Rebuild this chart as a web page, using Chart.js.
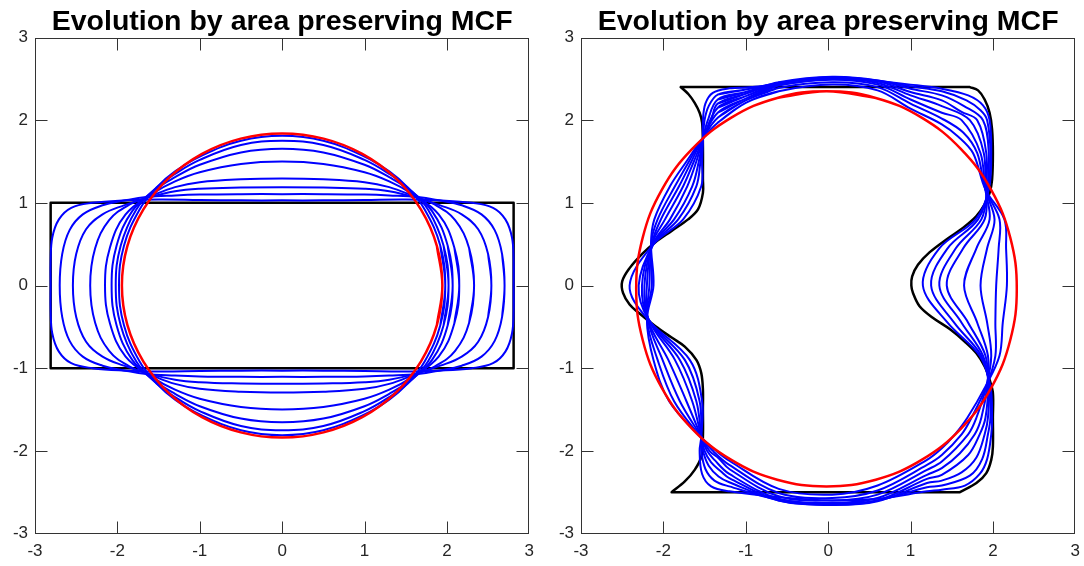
<!DOCTYPE html>
<html>
<head>
<meta charset="utf-8">
<title>Area preserving MCF</title>
<script src="https://cdn.jsdelivr.net/npm/chart.js@4.4.1/dist/chart.umd.min.js"></script>
<style>
  body { margin: 0; background: #fff; width: 1084px; height: 566px; overflow: hidden; position: relative; }
  canvas { position: absolute; top: 0; }
  #leftPanel { left: 0; }
  #rightPanel { left: 546px; }
</style>
</head>
<body>
<canvas id="leftPanel" width="542" height="566"></canvas>
<canvas id="rightPanel" width="542" height="566"></canvas>
<script>
const axisTicks = [-3, -2, -1, 0, 1, 2, 3];
const panelTitle = 'Evolution by area preserving MCF';

// ---- left panel: rectangle flowing to a circle ----
const rectCorners = [[-2.81, 1], [2.81, 1], [2.81, -1], [-2.81, -1]];

// quarter outlines, from the x axis up to the y axis (mirrored into full loops)
const leftCircleQ = [[1.945, 0], [1.879, 0.476], [1.684, 0.92], [1.375, 1.301], [0.973, 1.593], [0.503, 1.777], [0, 1.84]];

const leftFlowQ = [
  [[2.81, 0], [2.81, 0.30], [2.79, 0.58], [2.71, 0.80], [2.56, 0.94], [2.30, 1.00], [1.90, 1.03], [1.50, 1.04], [1.00, 1.035], [0.50, 1.03], [0, 1.03]],
  [[2.70, 0], [2.67, 0.38], [2.58, 0.67], [2.42, 0.86], [2.18, 0.97], [1.90, 1.03], [1.65, 1.07], [1.30, 1.09], [1.00, 1.10], [0.50, 1.105], [0, 1.105]],
  [[2.54, 0], [2.50, 0.38], [2.38, 0.68], [2.18, 0.86], [1.92, 0.97], [1.64, 1.06], [1.30, 1.14], [1.00, 1.17], [0.50, 1.185], [0, 1.19]],
  [[2.33, 0], [2.27, 0.45], [2.10, 0.79], [1.85, 0.98], [1.60, 1.08], [1.30, 1.19], [1.00, 1.25], [0.50, 1.285], [0, 1.295]],
  [[2.15, 0], [2.09, 0.46], [1.90, 0.86], [1.56, 1.12], [1.30, 1.26], [1.00, 1.37], [0.50, 1.47], [0, 1.50]],
  [[2.07, 0], [2.01, 0.48], [1.82, 0.90], [1.54, 1.16], [1.30, 1.31], [1.00, 1.46], [0.50, 1.61], [0, 1.655]],
  [[2.02, 0], [1.96, 0.48], [1.77, 0.92], [1.53, 1.18], [1.30, 1.35], [1.00, 1.52], [0.50, 1.70], [0, 1.75]],
  [[1.98, 0], [1.92, 0.48], [1.73, 0.92], [1.52, 1.19], [1.30, 1.38], [1.00, 1.56], [0.50, 1.75], [0, 1.81]]
];

// ---- right panel: non-convex shape flowing to a circle ----
// start shape, clockwise from the top-left corner (doubled points keep corners sharp)
const rightStart = [[-1.79, 2.40], [-1.79, 2.40], [1.72, 2.40], [1.72, 2.40], [1.82, 2.36], [1.90, 2.25], [1.96, 2.09],
  [1.99, 1.89], [2.00, 1.60], [1.99, 1.28], [1.96, 1.12], [1.90, 0.98], [1.80, 0.84], [1.64, 0.70], [1.44, 0.56],
  [1.23, 0.40], [1.09, 0.25], [1.02, 0.11], [1.01, 0.0], [1.03, -0.09], [1.11, -0.25], [1.27, -0.39], [1.48, -0.53],
  [1.66, -0.68], [1.80, -0.82], [1.90, -0.98], [1.96, -1.14], [2.00, -1.30], [2.00, -1.60], [2.00, -1.95], [1.98, -2.11],
  [1.92, -2.27], [1.80, -2.39], [1.60, -2.50], [1.60, -2.50], [-1.90, -2.50], [-1.90, -2.50], [-1.74, -2.37], [-1.62, -2.23],
  [-1.54, -2.07], [-1.52, -1.83], [-1.52, -1.50], [-1.52, -1.26], [-1.54, -1.06], [-1.60, -0.90], [-1.74, -0.74],
  [-1.90, -0.63], [-2.10, -0.49], [-2.30, -0.33], [-2.41, -0.23], [-2.49, -0.09], [-2.50, 0.05], [-2.41, 0.21],
  [-2.26, 0.38], [-2.10, 0.52], [-1.90, 0.66], [-1.70, 0.80], [-1.58, 0.92], [-1.52, 1.12], [-1.52, 1.29],
  [-1.52, 1.69], [-1.53, 1.97], [-1.56, 2.09], [-1.62, 2.21], [-1.70, 2.32]];

// final circle, clockwise from the top
const rightCircle = [[-0.02, 2.35], [0.578, 2.269], [1.135, 2.03], [1.613, 1.65], [1.981, 1.155], [2.211, 0.579],
  [2.29, -0.04], [2.211, -0.659], [1.981, -1.235], [1.613, -1.73], [1.135, -2.11], [0.578, -2.349], [-0.02, -2.43],
  [-0.618, -2.349], [-1.175, -2.11], [-1.653, -1.73], [-2.021, -1.235], [-2.251, -0.659], [-2.33, -0.04],
  [-2.251, 0.579], [-2.021, 1.155], [-1.653, 1.65], [-1.175, 2.03], [-0.618, 2.269]];

// intermediate outlines, earliest first: each station is [x, y of every curve] or [y, x of every curve]
const rightTop = [
  [-1.0, [2.395, 2.37, 2.34, 2.32, 2.29, 2.26, 2.24, 2.21]],
  [-0.6, [2.43, 2.45, 2.46, 2.45, 2.44, 2.42, 2.39, 2.35]],
  [0.05, [2.50, 2.52, 2.525, 2.52, 2.51, 2.49, 2.46, 2.43]],
  [0.6, [2.47, 2.48, 2.48, 2.47, 2.45, 2.43, 2.40, 2.36]],
  [1.0, [2.43, 2.41, 2.38, 2.34, 2.30, 2.25, 2.20, 2.14]],
  [1.38, [2.38, 2.35, 2.30, 2.24, 2.17, 2.09, 2.02, 1.95]]
];
const rightCornerUR = [
  [[1.70, 2.30], [1.88, 2.18], [1.96, 2.00]],
  [[1.68, 2.24], [1.85, 2.12], [1.93, 2.00]],
  [[1.65, 2.17], [1.88, 2.00]],
  [[1.62, 2.10], [1.81, 2.00]],
  [[1.72, 2.00]],
  [[1.62, 2.00]],
  [[1.64, 1.85]],
  [[1.58, 1.80]]
];
const rightSideR = [
  [1.6, [1.98, 1.97, 1.95, 1.92, 1.89, 1.85, 1.81, 1.76]],
  [1.16, [1.95, 1.94, 1.93, 1.92, 1.91, 1.91, 1.91, 1.91]],
  [0.8, [1.79, 1.82, 1.86, 1.90, 1.96, 2.02, 2.08, 2.14]],
  [0.45, [1.35, 1.45, 1.55, 1.64, 1.80, 1.93, 2.07, 2.16]],
  [0, [1.15, 1.25, 1.35, 1.44, 1.65, 1.85, 2.04, 2.17]],
  [-0.45, [1.45, 1.53, 1.62, 1.70, 1.81, 1.93, 2.03, 2.12]],
  [-0.85, [1.84, 1.86, 1.88, 1.91, 1.94, 1.98, 2.03, 2.08]],
  [-1.22, [1.97, 1.96, 1.95, 1.94, 1.93, 1.92, 1.92, 1.91]],
  [-1.6, [1.99, 1.97, 1.94, 1.91, 1.86, 1.80, 1.74, 1.69]],
  [-1.8, [1.98, 1.94, 1.90, 1.84, 1.78, 1.70, 1.62, 1.54]]
];
const rightCornerLR = [
  [[1.93, -2.10], [1.84, -2.28], [1.66, -2.42]],
  [[1.87, -2.10], [1.72, -2.30]],
  [[1.80, -2.08], [1.62, -2.26]],
  [[1.70, -2.05]],
  [[1.60, -2.03]],
  [], [], []
];
const rightBottom = [
  [1.38, [-2.47, -2.42, -2.36, -2.29, -2.21, -2.13, -2.05, -1.97]],
  [1.2, [-2.49, -2.44, -2.39, -2.34, -2.29, -2.23, -2.17, -2.11]],
  [0.6, [-2.58, -2.60, -2.61, -2.60, -2.57, -2.53, -2.48, -2.42]],
  [0.05, [-2.60, -2.64, -2.655, -2.65, -2.63, -2.60, -2.57, -2.53]],
  [-0.6, [-2.56, -2.59, -2.60, -2.60, -2.58, -2.55, -2.51, -2.46]],
  [-1.2, [-2.49, -2.43, -2.38, -2.33, -2.28, -2.22, -2.17, -2.12]]
];
const rightCornerLL = [
  [[-1.42, -2.43], [-1.53, -2.28]],
  [[-1.38, -2.36], [-1.49, -2.22]],
  [[-1.33, -2.31], [-1.45, -2.18]],
  [[-1.30, -2.25], [-1.42, -2.14]],
  [[-1.38, -2.11]],
  [[-1.33, -2.09]],
  [], []
];
const rightSideL = [
  [-2.0, [-1.56, -1.54, -1.52, -1.50, -1.47, -1.44, -1.40, -1.36]],
  [-1.83, [-1.54, -1.54, -1.54, -1.54, -1.54, -1.54, -1.55, -1.55]],
  [-1.4, [-1.53, -1.56, -1.60, -1.65, -1.72, -1.80, -1.87, -1.93]],
  [-0.9, [-1.68, -1.74, -1.80, -1.86, -1.94, -2.01, -2.07, -2.12]],
  [-0.41, [-2.19, -2.18, -2.18, -2.18, -2.19, -2.19, -2.20, -2.20]],
  [0, [-2.41, -2.30, -2.26, -2.23, -2.20, -2.17, -2.14, -2.12]],
  [0.5, [-2.12, -2.12, -2.13, -2.13, -2.14, -2.14, -2.15, -2.15]],
  [0.8, [-1.76, -1.82, -1.87, -1.92, -1.98, -2.03, -2.07, -2.11]],
  [1.2, [-1.54, -1.60, -1.65, -1.71, -1.76, -1.81, -1.86, -1.92]],
  [1.5, [-1.53, -1.55, -1.57, -1.60, -1.63, -1.66, -1.69, -1.72]],
  [1.77, [-1.52, -1.52, -1.52, -1.52, -1.52, -1.53, -1.53, -1.53]]
];
const rightCornerUL = [
  [[-1.52, 2.00], [-1.49, 2.20], [-1.40, 2.33], [-1.20, 2.385]],
  [[-1.50, 2.00], [-1.45, 2.17], [-1.34, 2.31]],
  [[-1.46, 2.00], [-1.34, 2.25]],
  [[-1.42, 2.00], [-1.34, 2.20]],
  [[-1.34, 2.15]],
  [[-1.34, 2.09]],
  [[-1.34, 2.03]],
  [[-1.34, 1.97]]
];

// ---- helpers ----
function mirrorQuarter(q) {
  const loop = q.slice();
  q.slice(0, -1).reverse().forEach(([x, y]) => loop.push([-x, y]));
  q.slice(1).forEach(([x, y]) => loop.push([-x, -y]));
  q.slice(1, -1).reverse().forEach(([x, y]) => loop.push([x, -y]));
  return loop;
}

function rightFlowCurve(k) {
  const pts = [];
  rightTop.forEach(([x, ys]) => pts.push([x, ys[k]]));
  pts.push(...rightCornerUR[k]);
  rightSideR.forEach(([y, xs]) => pts.push([xs[k], y]));
  pts.push(...rightCornerLR[k]);
  rightBottom.forEach(([x, ys]) => pts.push([x, ys[k]]));
  pts.push(...rightCornerLL[k]);
  rightSideL.forEach(([y, xs]) => pts.push([xs[k], y]));
  pts.push(...rightCornerUL[k]);
  return pts;
}

// wrap the ends so the spline closes smoothly
function closeLoop(pts) {
  const n = pts.length;
  return [pts[n - 1], ...pts, pts[0], pts[1]].map(([x, y]) => ({ x, y }));
}

function outline(pts, color, width, tension) {
  return {
    data: closeLoop(pts),
    showLine: true,
    borderColor: color,
    borderWidth: width,
    pointRadius: 0,
    fill: false,
    tension: tension,
    borderJoinStyle: 'round',
    borderCapStyle: 'round'
  };
}

// matlab-like box with inward ticks on all four sides
const TICK_LEN = 12;
const boxTicks = {
  id: 'boxTicks',
  beforeDatasetsDraw(chart) {
    const { ctx, chartArea: a, scales: { x, y } } = chart;
    ctx.save();
    ctx.strokeStyle = '#333';
    ctx.lineWidth = 1;
    const l = Math.round(a.left) + 0.5, r = Math.round(a.right) - 0.5;
    const t = Math.round(a.top) + 0.5, b = Math.round(a.bottom) - 0.5;
    ctx.strokeRect(l, t, r - l, b - t);
    ctx.beginPath();
    axisTicks.slice(1, -1).forEach(v => {
      const px = Math.round(x.getPixelForValue(v)) + 0.5;
      const py = Math.round(y.getPixelForValue(v)) + 0.5;
      ctx.moveTo(px, b); ctx.lineTo(px, b - TICK_LEN);
      ctx.moveTo(px, t); ctx.lineTo(px, t + TICK_LEN);
      ctx.moveTo(l, py); ctx.lineTo(l + TICK_LEN, py);
      ctx.moveTo(r, py); ctx.lineTo(r - TICK_LEN, py);
    });
    ctx.stroke();
    ctx.restore();
  }
};

const tickFont = { family: 'Liberation Sans', size: 17 };

function axis(fit) {
  return {
    type: 'linear',
    min: -3,
    max: 3,
    grid: { display: false, drawTicks: false },
    border: { display: false },
    ticks: { stepSize: 1, color: '#262626', font: tickFont, padding: 7 },
    afterFit: fit
  };
}

function makePanel(id, datasets) {
  const xAxis = axis(s => { s.height = 30.5; });
  xAxis.ticks.padding = 8;
  return new Chart(document.getElementById(id), {
    type: 'scatter',
    data: { datasets: datasets },
    options: {
      responsive: false,
      animation: false,
      events: [],
      layout: { padding: { left: 0, right: 11.5, top: 0, bottom: 2 } },
      plugins: {
        legend: { display: false },
        tooltip: { enabled: false },
        title: {
          display: true,
          text: panelTitle,
          fullSize: false,
          color: '#000',
          font: { family: 'Liberation Sans', size: 28.5, weight: 'bold', lineHeight: 1 },
          padding: { top: 8, bottom: 1 }
        }
      },
      scales: {
        x: xAxis,
        y: axis(s => { s.width = 35; })
      }
    },
    plugins: [boxTicks]
  });
}

// first dataset is drawn on top: circle, then flow curves, then the start shape
const leftSets = [outline(mirrorQuarter(leftCircleQ), '#ff0000', 2.5, 0.4)];
leftFlowQ.forEach(q => leftSets.push(outline(mirrorQuarter(q), '#0000ff', 2, 0.4)));
leftSets.push(outline(rectCorners, '#000000', 2.5, 0));

const rightSets = [outline(rightCircle, '#ff0000', 2.5, 0.4)];
for (let k = 0; k < 8; k++) rightSets.push(outline(rightFlowCurve(k), '#0000ff', 2, 0.35));
rightSets.push(outline(rightStart, '#000000', 2.5, 0.35));

makePanel('leftPanel', leftSets);
makePanel('rightPanel', rightSets);
</script>
</body>
</html>
